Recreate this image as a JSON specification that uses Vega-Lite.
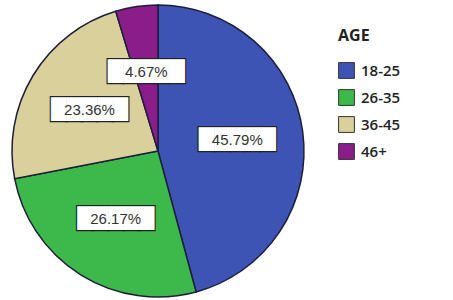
{
  "$schema": "https://vega.github.io/schema/vega-lite/v6.json",
  "autosize": {"type": "none"},
  "width": 292,
  "height": 292,
  "padding": {"left": 12, "top": 5, "right": 149, "bottom": 3},
  "background": "white",
  "data": {
    "values": [
      {"age": "18-25", "share": 0.4579},
      {"age": "26-35", "share": 0.2617},
      {"age": "36-45", "share": 0.2336},
      {"age": "46+", "share": 0.0467}
    ]
  },
  "encoding": {
    "theta": {"field": "share", "type": "quantitative", "stack": true},
    "order": {"field": "age", "type": "nominal"}
  },
  "layer": [
    {
      "mark": {"type": "arc", "stroke": "#1e1e3c", "strokeWidth": 1.5},
      "encoding": {
        "color": {
          "field": "age",
          "type": "nominal",
          "title": "AGE",
          "scale": {
            "domain": ["18-25", "26-35", "36-45", "46+"],
            "range": ["#3d54b4", "#3cb94a", "#d9d09c", "#8b1d8a"]
          },
          "legend": {
            "orient": "none",
            "legendX": 326,
            "legendY": 23,
            "symbolType": "square",
            "symbolSize": 250,
            "symbolStrokeColor": "#333333",
            "symbolStrokeWidth": 1,
            "symbolOpacity": 1,
            "titleFont": "Open Sans",
            "titleFontSize": 16,
            "titleFontWeight": "bold",
            "titleColor": "#222222",
            "titlePadding": 18,
            "labelFont": "Open Sans",
            "labelFontSize": 15,
            "labelFontWeight": 600,
            "labelColor": "#222222",
            "labelOffset": 6,
            "rowPadding": 6
          }
        }
      }
    },
    {
      "mark": {"type": "text", "text": "█████", "radius": 80, "font": "DejaVu Sans", "fontSize": 20, "fill": "white", "stroke": "#222222", "strokeWidth": 2.4, "baseline": "middle", "align": "center"}
    },
    {
      "mark": {"type": "text", "text": "█████", "radius": 80, "font": "DejaVu Sans", "fontSize": 20, "fill": "white", "baseline": "middle", "align": "center"}
    },
    {
      "mark": {"type": "text", "radius": 80, "font": "Liberation Sans", "fontSize": 15, "fill": "#333333", "baseline": "middle", "align": "center"},
      "encoding": {
        "text": {"field": "share", "type": "quantitative", "format": ".2%"}
      }
    }
  ]
}
